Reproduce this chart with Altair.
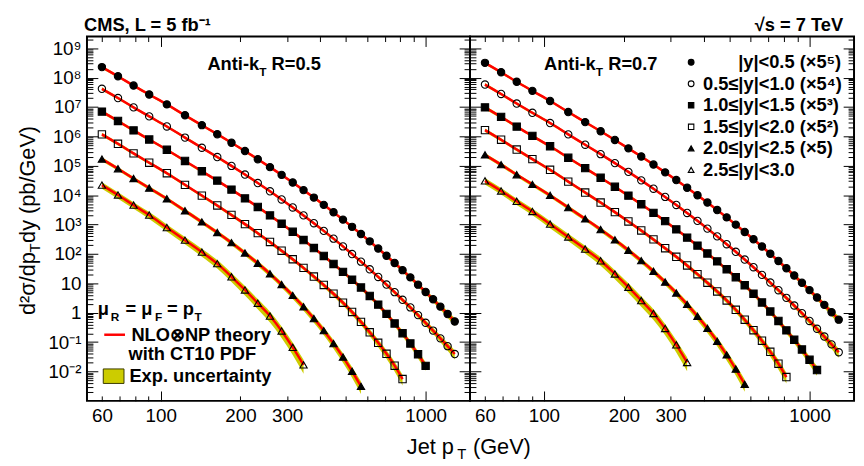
import altair as alt
import pandas as pd

FONT = "Liberation Sans"
RED = "#ff0000"
BAND = "#cccc00"

# ---------------- data ----------------
pt_bins = [60, 69, 79, 90.5, 105.5, 123.5, 143, 163.5, 185, 208, 232.5, 258.5, 286, 315, 346,
           378.5, 412.5, 449, 487.5, 527.5, 570, 615, 662, 711.5, 763.5, 818, 875.5, 936,
           999.5, 1066.5, 1136.5, 1210, 1287.5]

series_labels = ["|y|<0.5 (×5⁵)", "0.5≤|y|<1.0 (×5⁴)", "1.0≤|y|<1.5 (×5³)",
                 "1.5≤|y|<2.0 (×5²)", "2.0≤|y|<2.5 (×5)", "2.5≤|y|<3.0"]

# log10 of scaled d2sigma/dpT dy (pb/GeV), anti-kT R=0.5
r05_y00 = [8.36, 8.047, 7.731, 7.428, 7.091, 6.72, 6.384, 6.077, 5.786, 5.502, 5.226, 4.955, 4.691,
           4.432, 4.173, 3.919, 3.671, 3.419, 3.169, 2.923, 2.677, 2.43, 2.184, 1.939, 1.694, 1.449,
           1.203, 0.955, 0.707, 0.457, 0.207, -0.044, -0.296]
r05_y05 = [7.621, 7.307, 6.989, 6.682, 6.34, 5.961, 5.615, 5.298, 4.997, 4.702, 4.415, 4.132, 3.856,
           3.584, 3.313, 3.047, 2.785, 2.521, 2.257, 1.998, 1.738, 1.478, 1.218, 0.959, 0.700, 0.441,
           0.181, -0.081, -0.343, -0.608, -0.872, -1.138, -1.405]
r05_y10 = [6.845, 6.527, 6.205, 5.895, 5.548, 5.165, 4.816, 4.496, 4.191, 3.892, 3.6, 3.312, 3.031,
           2.754, 2.475, 2.201, 1.933, 1.661, 1.391, 1.125, 0.859, 0.572, 0.276, -0.039, -0.364,
           -0.699, -1.045, -1.413, -1.808]
r05_y15 = [6.071, 5.75, 5.424, 5.106, 4.749, 4.353, 3.987, 3.65, 3.329, 3.015, 2.709, 2.408, 2.11,
           1.82, 1.526, 1.232, 0.944, 0.647, 0.342, 0.026, -0.31, -0.666, -1.023, -1.398, -1.803,
           -2.256]
r05_y20 = [5.229, 4.902, 4.569, 4.245, 3.879, 3.471, 3.091, 2.733, 2.385, 2.035, 1.683, 1.325, 0.961,
           0.59, 0.202, -0.198, -0.61, -1.048, -1.511, -1.992, -2.505]
r05_y25 = [4.343, 4.007, 3.663, 3.324, 2.90, 2.47, 2.064, 1.67, 1.2235, 0.776, 0.325, -0.113, -0.62,
           -1.178, -1.774]

# anti-kT R=0.7
r07_y00 = [8.505, 8.185, 7.861, 7.551, 7.207, 6.83, 6.488, 6.176, 5.881, 5.594, 5.316, 5.043, 4.777,
           4.516, 4.255, 3.999, 3.749, 3.496, 3.245, 2.998, 2.75, 2.501, 2.254, 2.007, 1.761, 1.515,
           1.268, 1.019, 0.77, 0.519, 0.268, 0.016, -0.236]
r07_y05 = [7.766, 7.445, 7.119, 6.805, 6.456, 6.071, 5.719, 5.397, 5.092, 4.794, 4.505, 4.22, 3.942,
           3.668, 3.395, 3.127, 2.863, 2.598, 2.333, 2.073, 1.811, 1.549, 1.288, 1.027, 0.767, 0.507,
           0.246, -0.017, -0.28, -0.546, -0.811, -1.078, -1.345]
r07_y10 = [6.99, 6.665, 6.335, 6.018, 5.664, 5.275, 4.92, 4.595, 4.286, 3.984, 3.69, 3.40, 3.117,
           2.838, 2.557, 2.285, 2.018, 1.748, 1.48, 1.21, 0.935, 0.648, 0.35, 0.04, -0.28,
           -0.60, -0.92, -1.25, -1.60, -1.95]
r07_y15 = [6.216, 5.888, 5.554, 5.229, 4.865, 4.463, 4.091, 3.749, 3.424, 3.107, 2.799, 2.496, 2.196,
           1.904, 1.608, 1.312, 1.022, 0.724, 0.418, 0.101, -0.237, -0.595, -0.953, -1.33, -1.736,
           -2.19]
r07_y20 = [5.374, 5.04, 4.699, 4.368, 3.995, 3.581, 3.195, 2.832, 2.48, 2.127, 1.773, 1.413, 1.047,
           0.674, 0.284, -0.118, -0.532, -0.971, -1.435, -1.917, -2.432]
r07_y25 = [4.488, 4.145, 3.793, 3.447, 3.016, 2.58, 2.168, 1.769, 1.319, 0.868, 0.415, -0.025, -0.534,
           -1.094, -1.692]

# relative experimental uncertainty (band)
unc_y00 = [0.12, 0.11, 0.10, 0.10, 0.10, 0.10, 0.10, 0.10, 0.10, 0.10, 0.10, 0.10, 0.10, 0.10, 0.10,
           0.10, 0.11, 0.11, 0.11, 0.12, 0.12, 0.12, 0.13, 0.13, 0.14, 0.15, 0.16, 0.17, 0.18, 0.20,
           0.22, 0.25, 0.30]
unc_y05 = [0.12, 0.11, 0.10, 0.10, 0.10, 0.10, 0.10, 0.10, 0.10, 0.10, 0.10, 0.10, 0.10, 0.11, 0.11,
           0.11, 0.11, 0.12, 0.12, 0.12, 0.13, 0.13, 0.14, 0.15, 0.16, 0.17, 0.18, 0.20, 0.22, 0.24,
           0.27, 0.30, 0.35]
unc_y10 = [0.13, 0.12, 0.11, 0.11, 0.11, 0.11, 0.11, 0.11, 0.11, 0.11, 0.11, 0.12, 0.12, 0.12, 0.12,
           0.13, 0.13, 0.14, 0.14, 0.15, 0.16, 0.17, 0.18, 0.19, 0.21, 0.23, 0.25, 0.28, 0.32, 0.36]
unc_y15 = [0.14, 0.13, 0.12, 0.12, 0.12, 0.12, 0.12, 0.13, 0.13, 0.13, 0.14, 0.14, 0.15, 0.15, 0.16,
           0.17, 0.18, 0.19, 0.20, 0.22, 0.24, 0.26, 0.29, 0.32, 0.36, 0.40]
unc_y20 = [0.16, 0.15, 0.15, 0.15, 0.15, 0.16, 0.16, 0.17, 0.18, 0.19, 0.20, 0.21, 0.22, 0.24, 0.26,
           0.28, 0.30, 0.33, 0.36, 0.40, 0.45]
unc_y25 = [0.25, 0.25, 0.25, 0.26, 0.27, 0.28, 0.30, 0.32, 0.34, 0.36, 0.38, 0.40, 0.42, 0.45, 0.50]

# axis ticks / labels
x_major = [100, 1000]
x_minor = [60, 70, 80, 90, 200, 300, 400, 500, 600, 700, 800, 900]
x_labeled = [60, 100, 200, 300, 1000]
y_major = [1e-2, 1e-1, 1, 10, 1e2, 1e3, 1e4, 1e5, 1e6, 1e7, 1e8, 1e9]
y_major_text = ["10⁻²", "10⁻¹", "1", "10", "10²", "10³", "10⁴", "10⁵", "10⁶", "10⁷", "10⁸", "10⁹"]
y_minor_mult = [2, 3, 4, 5, 6, 7, 8, 9]
y_decades = list(range(-3, 10))

X_DOMAIN = [52.7, 1470]
Y_DOMAIN = [1e-3, 2.5e9]

# ---------------- build ----------------
unc_lists = [unc_y00, unc_y05, unc_y10, unc_y15, unc_y20, unc_y25]


def panel_frame(series_vals):
    rows = []
    for lab, vals, unc in zip(series_labels, series_vals, unc_lists):
        for p, lv, u in zip(pt_bins, vals, unc):
            v = 10.0 ** lv
            rows.append(dict(pt=p, val=v, lo=v * (1 - u), hi=v * (1 + u), series=lab,
                             theory="NLO⊗NP theory", band="Exp. uncertainty"))
    return pd.DataFrame(rows)


df05 = panel_frame([r05_y00, r05_y05, r05_y10, r05_y15, r05_y20, r05_y25])
df07 = panel_frame([r07_y00, r07_y05, r07_y10, r07_y15, r07_y20, r07_y25])

y_minor = [m * 10.0 ** d for d in y_decades for m in y_minor_mult if m * 10.0 ** d < Y_DOMAIN[1]]

ylab_expr = "'" + y_major_text[-1] + "'"
for v, t in reversed(list(zip(y_major[:-1], y_major_text[:-1]))):
    ylab_expr = f"datum.value < {v * 3} ? '{t}' : ({ylab_expr})"
minor_lab = [v for v in x_labeled if v in x_minor]
xminor_expr = "indexof([" + ",".join(str(v) for v in minor_lab) + "], datum.value) >= 0 ? format(datum.value, 'd') : ''"

xs = alt.Scale(type="log", domain=X_DOMAIN, nice=False)
ys = alt.Scale(type="log", domain=Y_DOMAIN, nice=False)

common_axis = dict(domain=False, grid=False, title=None, tickColor="black", tickWidth=1,
                   labelFont=FONT, labelFontSize=19, labelColor="black", labelOverlap=False,
                   labelFlush=False, labelBound=False, labelPadding=6)


def axis(orient, values, size, labels=False, expr=None):
    kw = dict(common_axis, orient=orient, values=values, tickSize=size, offset=-size, labels=labels)
    if expr is not None:
        kw["labelExpr"] = expr
    return alt.Axis(**kw)


one = pd.DataFrame({"k": [0]})


def txt(s, x, y, size=18.5, bold=True, align="left", angle=None):
    kw = dict(text=s, fontSize=size, font=FONT, fontWeight="bold" if bold else "normal",
              align=align, baseline="alphabetic", color="black")
    if angle is not None:
        kw["angle"] = angle
    return alt.Chart(one).mark_text(**kw).encode(x=alt.value(x), y=alt.value(y))


shapes = ["circle", "circle", "square", "square", "triangle-up", "triangle-up"]
fills = ["black", "transparent", "black", "transparent", "black", "transparent"]
sizes = [55, 55, 46, 46, 55, 55]
legend_sizes = [34, 34, 30, 30, 34, 34]


def legend_glyph(i, x, y):
    return alt.Chart(one).mark_point(filled=True, stroke="black", strokeWidth=1.1, opacity=1).encode(
        x=alt.value(x), y=alt.value(y), shape=alt.value(shapes[i]), fill=alt.value(fills[i]),
        size=alt.value(legend_sizes[i]))


def make_panel(df, left):
    base = alt.Chart(df)
    line_legend = alt.Legend(orient="none", legendX=16, legendY=290, title=None, labelFont=FONT,
                             labelFontWeight="bold", labelFontSize=18.5, labelColor="black",
                             symbolType="stroke", symbolSize=441, symbolStrokeWidth=2.5,
                             labelOffset=5, padding=0, labelLimit=400)
    band_legend = alt.Legend(orient="none", legendX=16, legendY=333, title=None, labelFont=FONT,
                             labelFontWeight="bold", labelFontSize=18.5, labelColor="black",
                             symbolType="M-1,-0.7L1,-0.7L1,0.7L-1,0.7Z", symbolSize=441,
                             symbolStrokeColor="#3a3a00", symbolStrokeWidth=1, symbolOpacity=1,
                             labelOffset=5, padding=0, labelLimit=400)

    band = base.mark_area(opacity=1, interpolate="monotone").encode(
        x=alt.X("pt:Q", scale=xs, axis=axis("bottom", x_major, 10, True, "format(datum.value, 'd')")),
        y=alt.Y("lo:Q", scale=ys, axis=axis("left", y_major, 11, left, ylab_expr)),
        y2="hi:Q",
        color=alt.Color("band:N", scale=alt.Scale(range=[BAND]), legend=band_legend if left else None),
        detail="series:N",
    )
    line = base.mark_line(strokeWidth=2.5, interpolate="monotone").encode(
        x=alt.X("pt:Q", scale=xs, axis=axis("bottom", x_minor, 5, True, xminor_expr)),
        y=alt.Y("val:Q", scale=ys, axis=axis("left", y_minor, 6)),
        stroke=alt.Stroke("theory:N", scale=alt.Scale(range=[RED]), legend=line_legend if left else None),
        detail="series:N",
    )
    pts = base.mark_point(filled=True, stroke="black", strokeWidth=1.1, opacity=1).encode(
        x=alt.X("pt:Q", scale=xs, axis=axis("top", x_major, 10)),
        y=alt.Y("val:Q", scale=ys, axis=axis("right", y_major, 11)),
        shape=alt.Shape("series:N", scale=alt.Scale(domain=series_labels, range=shapes), legend=None),
        fill=alt.Fill("series:N", scale=alt.Scale(domain=series_labels, range=fills), legend=None),
        size=alt.Size("series:N", scale=alt.Scale(domain=series_labels, range=sizes), legend=None),
    )
    dummy = base.mark_point(opacity=0).encode(
        x=alt.X("pt:Q", scale=xs, axis=axis("top", x_minor, 5)),
        y=alt.Y("val:Q", scale=ys, axis=axis("right", y_minor, 6)),
    )
    layers = [band, line, pts, dummy]
    if left:
        layers += [
            txt("CMS, L = 5 fb⁻¹", -3, -6),
            txt("Anti-k", 122, 34), txt("T", 174.5, 40, 12), txt("R=0.5", 187, 34),
            txt("μ", 11, 282), txt("R", 24, 288, 12), txt("= μ", 39, 282), txt("F", 69, 288, 12),
            txt("= p", 81, 282), txt("T", 109, 288, 12),
            txt("with CT10 PDF", 42, 328),
            # y title
            txt("d²σ/dp", -53, 282, 22, False, angle=270),
            txt("T", -48, 218.7, 15, False, angle=270),
            txt("dy (pb/GeV)", -53, 209, 22, False, angle=270),
            # x title
            txt("Jet p", 324, 423, 22, False), txt("T", 375, 428, 15, False),
            txt("(GeV)", 391, 423, 22, False),
        ]
    else:
        layers += [
            txt("√s = 7 TeV", 378, -6, align="right"),
            txt("Anti-k", 75, 34), txt("T", 127.5, 40, 12), txt("R=0.7", 140, 34),
        ]
        # marker legend (top right of the R=0.7 panel)
        row_y = [26, 47.8, 69.6, 91.4, 113.2, 135]
        for i, lab in enumerate(series_labels):
            layers.append(legend_glyph(i, 224, row_y[i]))
            if i == 0:
                layers.append(txt(lab, 376, row_y[i] + 6, align="right"))
            else:
                layers.append(txt(lab, 236, row_y[i] + 6))
    return alt.layer(*layers).resolve_axis(x="independent", y="independent").properties(
        width=388 if left else 389, height=369)


left = make_panel(df05, True)
right = make_panel(df07, False)

chart = (
    alt.hconcat(left, right, spacing=0, bounds="flush")
    .resolve_scale(color="independent", stroke="independent", fill="independent",
                   shape="independent", size="independent")
    .resolve_legend(color="independent", stroke="independent", fill="independent",
                    shape="independent", size="independent")
    .properties(padding={"left": 8, "top": 4, "right": 0, "bottom": 0})
    .configure_view(stroke="black", strokeWidth=2)
)

chart.save("out.html", embed_options={"renderer": "svg", "actions": False})
